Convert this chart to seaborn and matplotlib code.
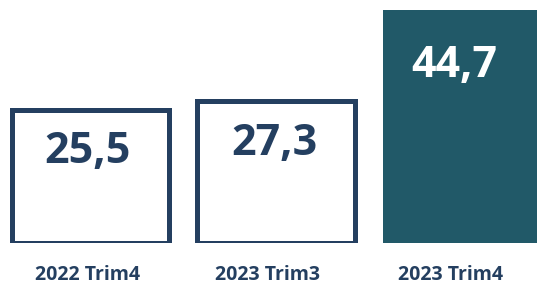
import seaborn as sns
import matplotlib.pyplot as plt
import matplotlib.transforms as mtransforms
import pandas as pd

periods = ['2022 Trim4', '2023 Trim3', '2023 Trim4']
values = [25.5, 27.3, 44.7]

navy = '#243f60'
teal = '#215968'

sns.set_theme(style='white')
plt.rcParams['font.family'] = ['Open Sans', 'DejaVu Sans']

df = pd.DataFrame({'period': periods, 'value': values})

fig = plt.figure(figsize=(5.37, 2.85), dpi=100)
ax = fig.add_axes([0, 42 / 285, 1, 243 / 285])

sns.barplot(data=df, x='period', y='value', width=0.85, ax=ax)

# vertical / horizontal nudges of the value labels (points)
text_dy = [-14, -15, -24]
text_dx = [-2, -1, -5]

# first two bars are outlined, the last one is filled
for i, p in enumerate(ax.patches):
    if i < 2:
        p.set_facecolor('white')
        p.set_edgecolor(navy)
        p.set_linewidth(3.6)
        txt_color = navy
    else:
        p.set_facecolor(teal)
        p.set_edgecolor('none')
        txt_color = 'white'
    label = f'{values[i]:.1f}'.replace('.', ',')
    ax.annotate(label, (p.get_x() + p.get_width() / 2, p.get_height()),
                xytext=(text_dx[i], text_dy[i]), textcoords='offset points',
                ha='center', va='top', fontsize=31, fontweight='bold',
                color=txt_color)

ax.set_xlim(-0.488, 2.407)
ax.set_ylim(0, 46.7)
ax.set_xlabel('')
ax.set_ylabel('')
ax.set_yticks([])
ax.tick_params(axis='x', length=0, pad=16, labelsize=14, labelcolor=navy)

# tick labels sit a bit left of the bar centres in the original
shifts = [-3, -9, -11]
for t, s in zip(ax.get_xticklabels(), shifts):
    t.set_fontweight('bold')
    t.set_transform(t.get_transform() + mtransforms.ScaledTranslation(s / 100, 0, fig.dpi_scale_trans))

for spine in ax.spines.values():
    spine.set_visible(False)

fig.savefig('out.png', dpi=100)
